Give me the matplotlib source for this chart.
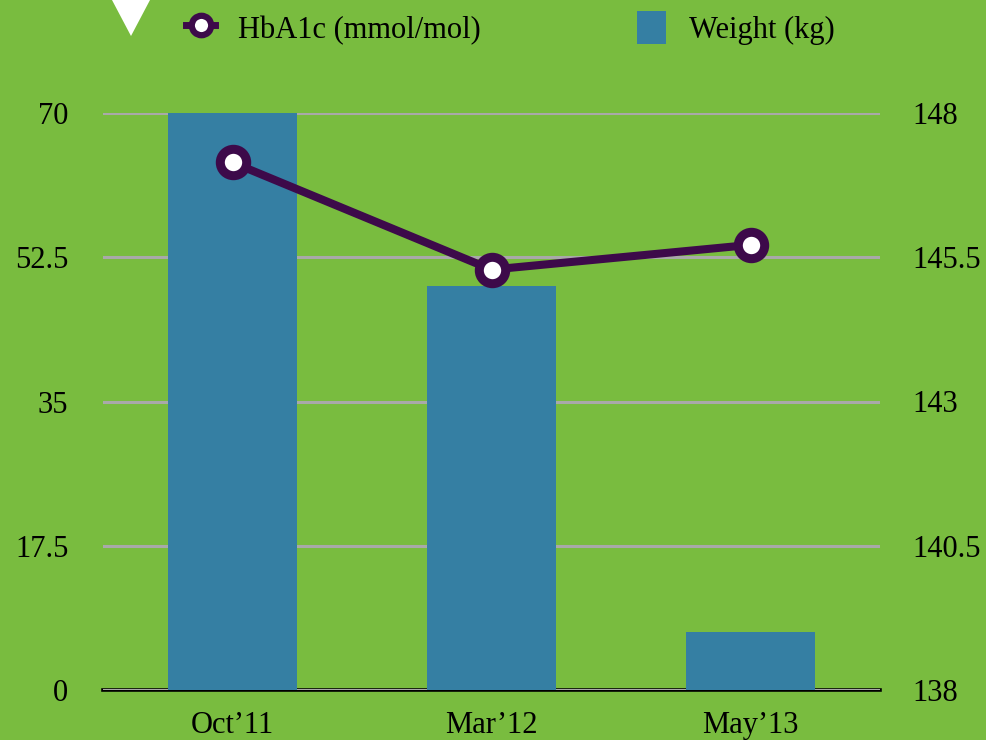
import matplotlib
matplotlib.use('Agg')
import matplotlib.pyplot as plt
from matplotlib.lines import Line2D
from matplotlib.patches import Patch, Polygon

dates = ['Oct\u201911', 'Mar\u201912', 'May\u201913']
hba1c = [64, 51, 54]
weight = [148, 145, 139]
left_ticks = [0, 17.5, 35, 52.5, 70]
right_ticks = [138, 140.5, 143, 145.5, 148]

green = '#79bc3f'
blue = '#357fa3'
purple = '#3d0a4a'

plt.rcParams['font.family'] = ['Liberation Serif', 'DejaVu Serif']
plt.rcParams['font.size'] = 22

fig = plt.figure(figsize=(9.87, 7.4), dpi=100, facecolor=green)
ax = fig.add_axes([103/987, 1-690/740, 777/987, 577/740])
ax.set_facecolor(green)
x = list(range(len(dates)))

# bars on weight axis (ticks on the right)
ax.bar(x, weight, width=0.5, color=blue, zorder=1)
ax.set_ylim(138, 148)
ax.set_xlim(-0.5, 2.5)
ax.set_axisbelow(True)
ax.yaxis.grid(True, color='#a9a9a9', linewidth=2.2)
ax.set_xticks(x)
ax.set_xticklabels(dates)
ax.tick_params(axis='x', length=0, pad=15)
for s in ['top', 'left', 'right']:
    ax.spines[s].set_visible(False)
ax.spines['bottom'].set_color('black')
ax.spines['bottom'].set_linewidth(2.6)
ax.spines['bottom'].set_zorder(0.5)

# HbA1c line on left axis
ax2 = ax.twinx()
ax2.plot(x, hba1c, color=purple, linewidth=5.8, marker='o', markersize=19,
         markerfacecolor='white', markeredgecolor=purple, markeredgewidth=6.5,
         zorder=3)
ax2.set_ylim(0, 70)
ax2.set_yticks(left_ticks)
ax2.set_yticklabels(['0', '17.5', '35', '52.5', '70'])
ax2.yaxis.tick_left()
ax2.tick_params(axis='y', length=0, pad=25)
for s in ax2.spines.values():
    s.set_visible(False)

ax.set_yticks(right_ticks)
ax.set_yticklabels(['138', '140.5', '143', '145.5', '148'])
ax.yaxis.tick_right()
ax.tick_params(axis='y', length=0, pad=23)

handles = [
    Line2D([], [], color=purple, linewidth=5, marker='o', markersize=14,
           markerfacecolor='white', markeredgecolor=purple, markeredgewidth=4.5),
    Patch(facecolor=blue, edgecolor='none'),
]
fig.legend(handles, ['HbA1c (mmol/mol)', 'Weight (kg)'], loc='center',
           bbox_to_anchor=(0.517, 0.962), ncol=2, frameon=False,
           handlelength=0.95, handleheight=1.3, handletextpad=0.75,
           columnspacing=5.1, fontsize=22)

# white triangle decoration at top left
fig.patches.append(Polygon([[112/987, 1.0], [150/987, 1.0], [131/987, 1-36/740]],
                           closed=True, facecolor='white', edgecolor='none',
                           transform=fig.transFigure, figure=fig))

fig.savefig('out.png', dpi=100, facecolor=green)
